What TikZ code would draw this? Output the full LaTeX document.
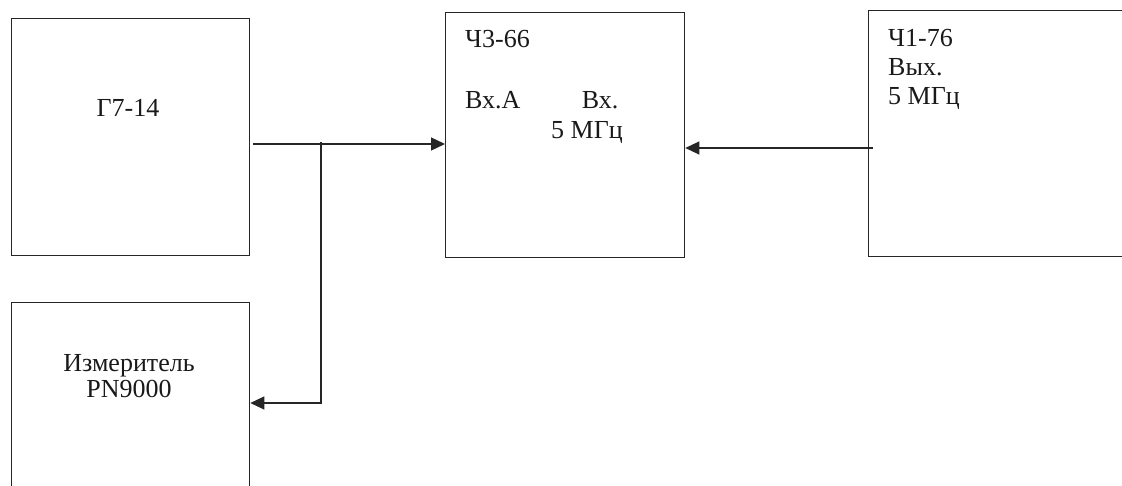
\documentclass[tikz,border=0pt]{standalone}
\usepackage{fontspec}
\setmainfont{Liberation Serif}
\usetikzlibrary{arrows.meta}
\begin{document}
\begin{tikzpicture}[x=1pt,y=-1pt,
  box/.style={draw=black!85, line width=1.3pt, inner sep=0pt, anchor=north west},
  lbl/.style={inner sep=0pt, font=\fontsize{26}{30}\selectfont, text=black!90},
  wire/.style={draw=black!85, line width=1.3pt},
  arr/.style={wire, -{Triangle[length=14pt,width=13pt]}}]
\useasboundingbox (0,0) rectangle (1122,486);
% boxes
\node[box, minimum width=238pt, minimum height=237pt] (g) at (11,18) {};
\node[box, minimum width=239pt, minimum height=245pt] (c3) at (445,12) {};
\node[box, minimum width=290pt, minimum height=246pt] (c1) at (868,10) {};
\node[box, minimum width=238pt, minimum height=200pt] (pn) at (11,302) {};
% labels
\node[lbl, anchor=base] (tg) at (128,117) {Г7-14};
\node[lbl, anchor=base west] (tc3) at (465,48) {Ч3-66};
\node[lbl, anchor=base west] (tina) at (465,109) {Вх.А};
\node[lbl, anchor=base] (tin5) at (600,109) {Вх.};
\node[lbl, anchor=base] (tin5b) at (587,139) {5 МГц};
\node[lbl, anchor=base west] (tc1a) at (888,47) {Ч1-76};
\node[lbl, anchor=base west] (tc1b) at (888,76) {Вых.};
\node[lbl, anchor=base west] (tc1c) at (888,105) {5 МГц};
\node[lbl, anchor=base] (tpna) at (129,371) {Измеритель};
\node[lbl, anchor=base] (tpnb) at (129,397) {PN9000};
% connectors
\coordinate (gout) at (253,144);
\coordinate (jtop) at (321,142);
\coordinate (jbot) at (321,403);
\coordinate (c1out) at (873,148);
\draw[arr] (gout) -- (c3.west |- gout);
\draw[arr] (jtop) -- (jbot) -- (pn.east |- jbot);
\draw[arr] (c1out) -- (c3.east |- c1out);
\end{tikzpicture}
\end{document}
